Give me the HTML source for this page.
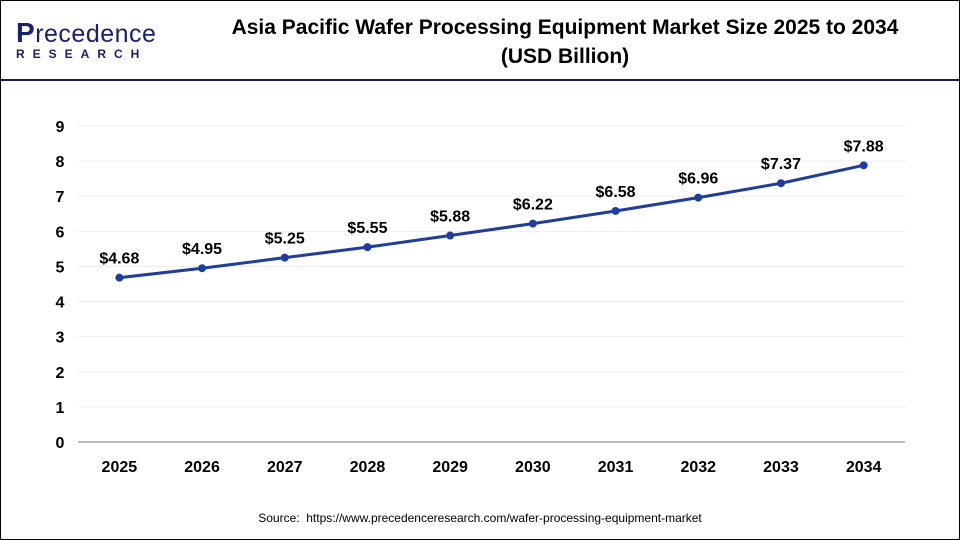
<!DOCTYPE html>
<html><head><meta charset="utf-8"><style>
body{margin:0;width:960px;height:540px;overflow:hidden;background:#fff;font-family:"Liberation Sans",sans-serif}
#frame{position:absolute;left:0;top:0;width:958px;height:538px;border:1px solid #000}
#hdr{position:absolute;left:0;top:79px;width:960px;height:2px;background:#1a1f4a}
</style></head><body>
<div id="frame"></div>
<div id="hdr"></div>
<div style="position:absolute;left:16px;top:20px;width:140px">
 <div style="font-size:25px;color:#1a2070;letter-spacing:0.5px;line-height:26px"><span style="font-weight:bold;font-size:28px">P</span>recedence</div>
 <div style="font-size:12px;font-weight:bold;letter-spacing:8px;color:#1a2070;line-height:14px">RESEARCH</div>
</div>
<div style="position:absolute;left:170px;top:13px;width:790px;text-align:center;font-weight:bold;font-size:21px;line-height:29px;color:#000">Asia Pacific Wafer Processing Equipment Market Size 2025 to 2034<br>(USD Billion)</div>
<svg id="chart" width="960" height="540" style="position:absolute;left:0;top:0"></svg>
<div style="position:absolute;left:0;top:511px;width:960px;text-align:center;font-size:12px;color:#000">Source: &nbsp;https://www.precedenceresearch.com/wafer-processing-equipment-market</div>
<script>
const categories=["2025","2026","2027","2028","2029","2030","2031","2032","2033","2034"];
const values=[4.68,4.95,5.25,5.55,5.88,6.22,6.58,6.96,7.37,7.88];
const labels=["$4.68","$4.95","$5.25","$5.55","$5.88","$6.22","$6.58","$6.96","$7.37","$7.88"];
const yTicks=[0,1,2,3,4,5,6,7,8,9];
const NS="http://www.w3.org/2000/svg";
const svg=document.getElementById('chart');
const x0=78,x1=905,y0=442,yTop=126,yMax=9;
const bw=(x1-x0)/categories.length;
const xs=i=>x0+bw*(i+0.5);
const ys=v=>y0-(y0-yTop)*v/yMax;
function mk(t,a){const e=document.createElementNS(NS,t);for(const k in a)e.setAttribute(k,a[k]);svg.appendChild(e);return e;}
yTicks.forEach(t=>{
 const g=mk('line',{x1:x0,x2:x1,y1:ys(t),y2:ys(t),stroke:t===0?'#bbb':'#eee','stroke-width':t===0?2:1});
 
 
 const l=mk('text',{x:60,y:ys(t)+6,'text-anchor':'middle','font-size':16,'font-weight':'bold','font-family':'Liberation Sans, sans-serif'});
 l.textContent=t;
 
 
});
categories.forEach((c,i)=>{
 const l=mk('text',{x:xs(i),y:472,'text-anchor':'middle','font-size':16,'font-weight':'bold','font-family':'Liberation Sans, sans-serif'});
 l.textContent=c;
 
 
});
const pl=mk('polyline',{points:values.map((v,i)=>xs(i)+','+ys(v)).join(' '),fill:'none',stroke:'#1f3d9e','stroke-width':3});


values.forEach((v,i)=>{
 const p=mk('circle',{cx:xs(i),cy:ys(v),r:4,fill:'#1f3d9e'});
 
 
 const t=mk('text',{x:xs(i),y:ys(v)-14,'text-anchor':'middle','font-size':16,'font-weight':'bold','font-family':'Liberation Sans, sans-serif'});
 t.textContent=labels[i];
 
 
});
</script>
</body></html>
